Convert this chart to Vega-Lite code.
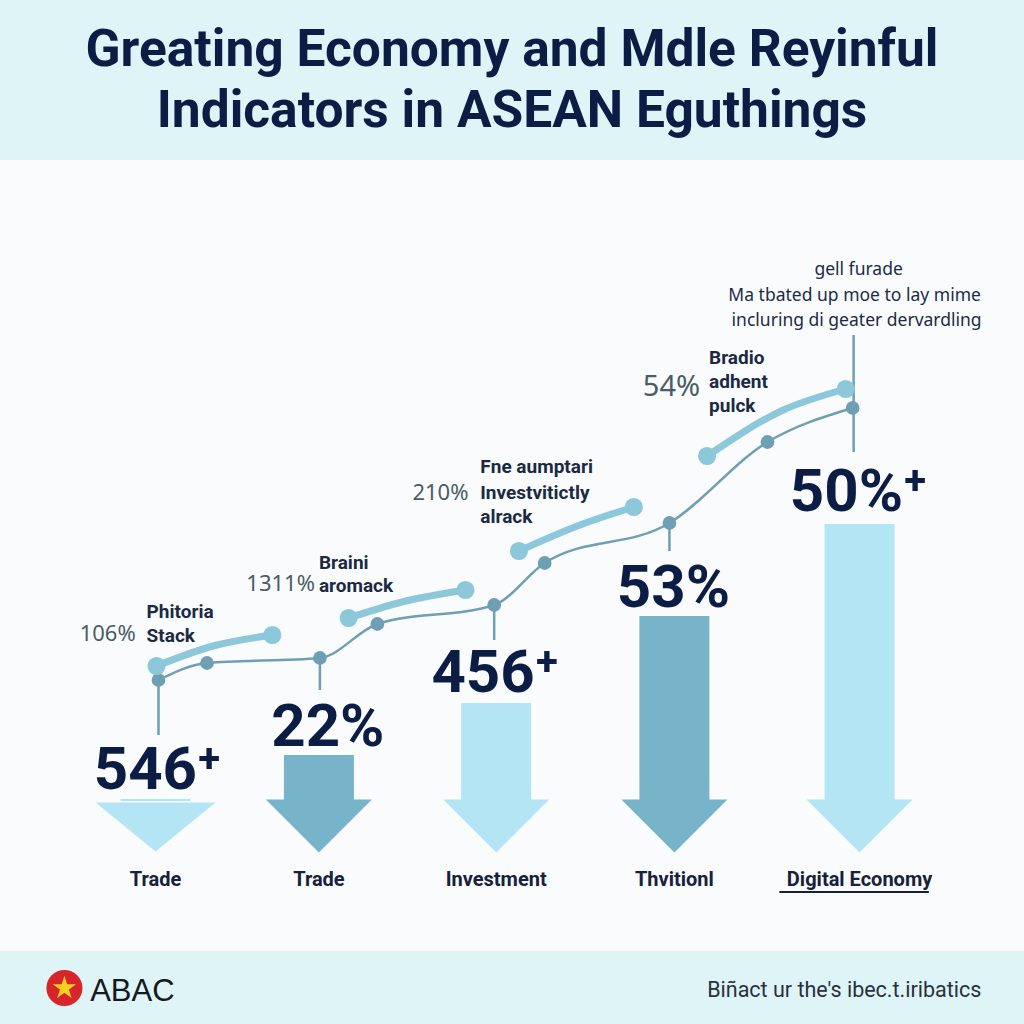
{
  "$schema": "https://vega.github.io/schema/vega-lite/v6.json",
  "width": 1024,
  "height": 1024,
  "padding": 0,
  "autosize": {"type": "none"},
  "background": "#f9fbfc",
  "config": {"view": {"stroke": null}},
  "datasets": {
    "bands": [
      {"band": "title", "x0": -20, "x1": 1044, "y0": -10, "y1": 160},
      {"band": "footer", "x0": -20, "x1": 1044, "y0": 951, "y1": 1034}
    ],
    "title": [
      {"x": 512, "y": 66, "text": "Greating Economy and Mdle Reyinful"},
      {"x": 512, "y": 127, "text": "Indicators in ASEAN Eguthings"}
    ],
    "columns": [
      {"col": 1, "label": "Trade", "figure": "546⁺", "x": 152, "figX": 154, "top": 799, "figY": 789, "tone": "light"},
      {"col": 2, "label": "Trade", "figure": "22%", "x": 317, "figX": 326, "top": 755, "figY": 746, "tone": "dark"},
      {"col": 3, "label": "Investment", "figure": "456⁺", "x": 496, "figX": 495, "top": 703, "figY": 692, "tone": "light"},
      {"col": 4, "label": "Thvitionl", "figure": "53%", "x": 676, "figX": 675, "top": 616, "figY": 607, "tone": "dark"},
      {"col": 5, "label": "Digital Economy", "figure": "50%⁺", "x": 863, "figX": 862, "top": 524, "figY": 511, "tone": "light"}
    ],
    "underline": [{"x": 782, "x2": 933, "y": 892}],
    "lineA": [
      {"x": 155, "y": 680}, {"x": 204, "y": 663}, {"x": 318, "y": 658},
      {"x": 376, "y": 624}, {"x": 494, "y": 605}, {"x": 545, "y": 563},
      {"x": 671, "y": 523}, {"x": 770, "y": 442}, {"x": 856, "y": 408}
    ],
    "lineB": [
      {"seg": 1, "x": 153, "y": 666, "end": true}, {"seg": 1, "x": 210, "y": 646, "end": false}, {"seg": 1, "x": 270, "y": 635, "end": true},
      {"seg": 2, "x": 347, "y": 618, "end": true}, {"seg": 2, "x": 405, "y": 601, "end": false}, {"seg": 2, "x": 465, "y": 590, "end": true},
      {"seg": 3, "x": 519, "y": 551, "end": true}, {"seg": 3, "x": 578, "y": 526, "end": false}, {"seg": 3, "x": 635, "y": 507, "end": true},
      {"seg": 4, "x": 709, "y": 456, "end": true}, {"seg": 4, "x": 786, "y": 410, "end": false}, {"seg": 4, "x": 849, "y": 389, "end": true}
    ],
    "drops": [
      {"x": 155, "y": 680, "y2": 735},
      {"x": 318, "y": 658, "y2": 690},
      {"x": 494, "y": 605, "y2": 640},
      {"x": 671, "y": 523, "y2": 551},
      {"x": 857, "y": 335, "y2": 452}
    ],
    "pcts": [
      {"x": 132, "y": 641, "text": "106%"},
      {"x": 313, "y": 591, "text": "1311%"},
      {"x": 468, "y": 500, "text": "210%"},
      {"x": 702, "y": 396, "text": "54%"}
    ],
    "heads": [
      {"x": 143, "y": 618, "text": "Phitoria"}, {"x": 143, "y": 642, "text": "Stack"},
      {"x": 317, "y": 569, "text": "Braini"}, {"x": 317, "y": 592, "text": "aromack"},
      {"x": 480, "y": 473, "text": "Fne aumptari"}, {"x": 480, "y": 499, "text": "Investvitictly"}, {"x": 480, "y": 523, "text": "alrack"},
      {"x": 711, "y": 364, "text": "Bradio"}, {"x": 711, "y": 388, "text": "adhent"}, {"x": 711, "y": 412, "text": "pulck"}
    ],
    "topnote": [
      {"x": 862, "y": 275, "text": "gell furade"},
      {"x": 858, "y": 301, "text": "Ma tbated up moe to lay mime"},
      {"x": 860, "y": 326, "text": "incluring di geater dervardling"}
    ],
    "logo": [{"x": 60, "y": 988, "text": "ABAC", "tx": 86, "ty": 1001}],
    "footnote": [{"x": 986, "y": 997, "text": "Biñact ur the's ibec.t.iribatics"}]
  },
  "layer": [
    {
      "data": {"name": "bands"},
      "mark": {"type": "rect", "fill": "#def4f7"},
      "encoding": {
        "x": {"field": "x0", "type": "quantitative", "scale": {"domain": [0, 1024], "nice": false, "zero": false}, "axis": null},
        "x2": {"field": "x1"},
        "y": {"field": "y0", "type": "quantitative", "scale": {"domain": [0, 1024], "nice": false, "zero": false, "reverse": true}, "axis": null},
        "y2": {"field": "y1"}
      }
    },
    {
      "data": {"name": "title"},
      "mark": {"type": "text", "align": "center", "baseline": "alphabetic", "font": "Roboto", "fontWeight": "bold", "fontSize": 51.5, "fill": "#0c1d45"},
      "encoding": {
        "x": {"field": "x", "type": "quantitative", "scale": {"domain": [0, 1024], "nice": false, "zero": false}, "axis": null},
        "y": {"field": "y", "type": "quantitative", "scale": {"domain": [0, 1024], "nice": false, "zero": false, "reverse": true}, "axis": null},
        "text": {"field": "text"}
      }
    },
    {
      "data": {"name": "drops"},
      "mark": {"type": "rule", "stroke": "#6f9fb3", "strokeWidth": 2.5},
      "encoding": {
        "x": {"field": "x", "type": "quantitative", "scale": {"domain": [0, 1024], "nice": false, "zero": false}, "axis": null},
        "y": {"field": "y", "type": "quantitative", "scale": {"domain": [0, 1024], "nice": false, "zero": false, "reverse": true}, "axis": null},
        "y2": {"field": "y2"}
      }
    },
    {
      "data": {"name": "lineA"},
      "mark": {"type": "line", "stroke": "#6f9fb3", "strokeWidth": 2.5, "interpolate": "monotone"},
      "encoding": {
        "x": {"field": "x", "type": "quantitative", "scale": {"domain": [0, 1024], "nice": false, "zero": false}, "axis": null},
        "y": {"field": "y", "type": "quantitative", "scale": {"domain": [0, 1024], "nice": false, "zero": false, "reverse": true}, "axis": null}
      }
    },
    {
      "data": {"name": "lineA"},
      "mark": {"type": "point", "shape": "circle", "filled": true, "size": 190, "fill": "#6f9fb3", "opacity": 1},
      "encoding": {
        "x": {"field": "x", "type": "quantitative", "scale": {"domain": [0, 1024], "nice": false, "zero": false}, "axis": null},
        "y": {"field": "y", "type": "quantitative", "scale": {"domain": [0, 1024], "nice": false, "zero": false, "reverse": true}, "axis": null}
      }
    },
    {
      "data": {"name": "lineB"},
      "mark": {"type": "line", "stroke": "#8dc7da", "strokeWidth": 7, "strokeCap": "round", "interpolate": "monotone"},
      "encoding": {
        "x": {"field": "x", "type": "quantitative", "scale": {"domain": [0, 1024], "nice": false, "zero": false}, "axis": null},
        "y": {"field": "y", "type": "quantitative", "scale": {"domain": [0, 1024], "nice": false, "zero": false, "reverse": true}, "axis": null},
        "detail": {"field": "seg", "type": "nominal"}
      }
    },
    {
      "data": {"name": "lineB"},
      "transform": [{"filter": "datum.end"}],
      "mark": {"type": "point", "shape": "circle", "filled": true, "size": 330, "fill": "#8dc7da", "opacity": 1},
      "encoding": {
        "x": {"field": "x", "type": "quantitative", "scale": {"domain": [0, 1024], "nice": false, "zero": false}, "axis": null},
        "y": {"field": "y", "type": "quantitative", "scale": {"domain": [0, 1024], "nice": false, "zero": false, "reverse": true}, "axis": null}
      }
    },
    {
      "data": {"name": "columns"},
      "mark": {"type": "bar", "width": 70},
      "encoding": {
        "x": {"field": "x", "type": "quantitative", "scale": {"domain": [0, 1024], "nice": false, "zero": false}, "axis": null},
        "y": {"field": "top", "type": "quantitative", "scale": {"domain": [0, 1024], "nice": false, "zero": false, "reverse": true}, "axis": null},
        "y2": {"datum": 801},
        "fill": {"field": "tone", "type": "nominal", "scale": {"domain": ["light", "dark"], "range": ["#b4e5f5", "#78b4c9"]}, "legend": null}
      }
    },
    {
      "data": {"name": "columns"},
      "transform": [{"filter": "datum.col != 1"}],
      "mark": {"type": "point", "shape": "M-1,-0.5L1,-0.5L0,0.5Z", "filled": true, "size": 11236, "opacity": 1, "strokeWidth": 0},
      "encoding": {
        "x": {"field": "x", "type": "quantitative", "scale": {"domain": [0, 1024], "nice": false, "zero": false}, "axis": null},
        "y": {"datum": 826, "type": "quantitative", "scale": {"domain": [0, 1024], "nice": false, "zero": false, "reverse": true}, "axis": null},
        "fill": {"field": "tone", "type": "nominal", "scale": {"domain": ["light", "dark"], "range": ["#b4e5f5", "#78b4c9"]}, "legend": null}
      }
    },
    {
      "data": {"name": "columns"},
      "transform": [{"filter": "datum.col == 1"}],
      "mark": {"type": "point", "shape": "M-1,-0.41L1,-0.41L0,0.41Z", "filled": true, "size": 14400, "opacity": 1, "strokeWidth": 0},
      "encoding": {
        "x": {"field": "x", "type": "quantitative", "scale": {"domain": [0, 1024], "nice": false, "zero": false}, "axis": null},
        "y": {"datum": 827, "type": "quantitative", "scale": {"domain": [0, 1024], "nice": false, "zero": false, "reverse": true}, "axis": null},
        "fill": {"field": "tone", "type": "nominal", "scale": {"domain": ["light", "dark"], "range": ["#b4e5f5", "#78b4c9"]}, "legend": null}
      }
    },
    {
      "data": {"name": "columns"},
      "mark": {"type": "text", "align": "center", "baseline": "alphabetic", "font": "Roboto", "fontWeight": "bold", "fontSize": 60, "fill": "#0c1d45"},
      "encoding": {
        "x": {"field": "figX", "type": "quantitative", "scale": {"domain": [0, 1024], "nice": false, "zero": false}, "axis": null},
        "y": {"field": "figY", "type": "quantitative", "scale": {"domain": [0, 1024], "nice": false, "zero": false, "reverse": true}, "axis": null},
        "text": {"field": "figure"}
      }
    },
    {
      "data": {"name": "columns"},
      "mark": {"type": "text", "align": "center", "baseline": "alphabetic", "font": "Roboto", "fontWeight": "bold", "fontSize": 20, "fill": "#17213b"},
      "encoding": {
        "x": {"field": "x", "type": "quantitative", "scale": {"domain": [0, 1024], "nice": false, "zero": false}, "axis": null},
        "y": {"datum": 886, "type": "quantitative", "scale": {"domain": [0, 1024], "nice": false, "zero": false, "reverse": true}, "axis": null},
        "text": {"field": "label"}
      }
    },
    {
      "data": {"name": "underline"},
      "mark": {"type": "rule", "stroke": "#17213b", "strokeWidth": 2},
      "encoding": {
        "x": {"field": "x", "type": "quantitative", "scale": {"domain": [0, 1024], "nice": false, "zero": false}, "axis": null},
        "x2": {"field": "x2"},
        "y": {"field": "y", "type": "quantitative", "scale": {"domain": [0, 1024], "nice": false, "zero": false, "reverse": true}, "axis": null}
      }
    },
    {
      "data": {"name": "pcts"},
      "transform": [{"filter": "datum.text != '54%'"}],
      "mark": {"type": "text", "align": "right", "baseline": "alphabetic", "font": "Noto Sans", "fontSize": 22, "fill": "#4b5b67"},
      "encoding": {
        "x": {"field": "x", "type": "quantitative", "scale": {"domain": [0, 1024], "nice": false, "zero": false}, "axis": null},
        "y": {"field": "y", "type": "quantitative", "scale": {"domain": [0, 1024], "nice": false, "zero": false, "reverse": true}, "axis": null},
        "text": {"field": "text"}
      }
    },
    {
      "data": {"name": "pcts"},
      "transform": [{"filter": "datum.text == '54%'"}],
      "mark": {"type": "text", "align": "right", "baseline": "alphabetic", "font": "Noto Sans", "fontSize": 29, "fill": "#4b5b67"},
      "encoding": {
        "x": {"field": "x", "type": "quantitative", "scale": {"domain": [0, 1024], "nice": false, "zero": false}, "axis": null},
        "y": {"field": "y", "type": "quantitative", "scale": {"domain": [0, 1024], "nice": false, "zero": false, "reverse": true}, "axis": null},
        "text": {"field": "text"}
      }
    },
    {
      "data": {"name": "heads"},
      "mark": {"type": "text", "align": "left", "baseline": "alphabetic", "font": "Roboto", "fontWeight": "bold", "fontSize": 19, "fill": "#1b2a42"},
      "encoding": {
        "x": {"field": "x", "type": "quantitative", "scale": {"domain": [0, 1024], "nice": false, "zero": false}, "axis": null},
        "y": {"field": "y", "type": "quantitative", "scale": {"domain": [0, 1024], "nice": false, "zero": false, "reverse": true}, "axis": null},
        "text": {"field": "text"}
      }
    },
    {
      "data": {"name": "topnote"},
      "mark": {"type": "text", "align": "center", "baseline": "alphabetic", "font": "Noto Sans", "fontSize": 17.5, "fill": "#1d2b45"},
      "encoding": {
        "x": {"field": "x", "type": "quantitative", "scale": {"domain": [0, 1024], "nice": false, "zero": false}, "axis": null},
        "y": {"field": "y", "type": "quantitative", "scale": {"domain": [0, 1024], "nice": false, "zero": false, "reverse": true}, "axis": null},
        "text": {"field": "text"}
      }
    },
    {
      "data": {"name": "logo"},
      "mark": {"type": "point", "shape": "circle", "filled": true, "size": 1300, "fill": "#d7262b", "opacity": 1},
      "encoding": {
        "x": {"field": "x", "type": "quantitative", "scale": {"domain": [0, 1024], "nice": false, "zero": false}, "axis": null},
        "y": {"field": "y", "type": "quantitative", "scale": {"domain": [0, 1024], "nice": false, "zero": false, "reverse": true}, "axis": null}
      }
    },
    {
      "data": {"name": "logo"},
      "mark": {"type": "point", "shape": "M0,-1L0.2245,-0.309L0.951,-0.309L0.363,0.118L0.588,0.809L0,0.382L-0.588,0.809L-0.363,0.118L-0.951,-0.309L-0.2245,-0.309Z", "filled": true, "size": 600, "fill": "#f6d21f", "opacity": 1, "strokeWidth": 0},
      "encoding": {
        "x": {"field": "x", "type": "quantitative", "scale": {"domain": [0, 1024], "nice": false, "zero": false}, "axis": null},
        "y": {"field": "y", "type": "quantitative", "scale": {"domain": [0, 1024], "nice": false, "zero": false, "reverse": true}, "axis": null}
      }
    },
    {
      "data": {"name": "logo"},
      "mark": {"type": "text", "align": "left", "baseline": "alphabetic", "font": "Liberation Sans", "fontSize": 31, "fill": "#151a22"},
      "encoding": {
        "x": {"field": "tx", "type": "quantitative", "scale": {"domain": [0, 1024], "nice": false, "zero": false}, "axis": null},
        "y": {"field": "ty", "type": "quantitative", "scale": {"domain": [0, 1024], "nice": false, "zero": false, "reverse": true}, "axis": null},
        "text": {"field": "text"}
      }
    },
    {
      "data": {"name": "footnote"},
      "mark": {"type": "text", "align": "right", "baseline": "alphabetic", "font": "Roboto", "fontSize": 21.5, "fill": "#28313d"},
      "encoding": {
        "x": {"field": "x", "type": "quantitative", "scale": {"domain": [0, 1024], "nice": false, "zero": false}, "axis": null},
        "y": {"field": "y", "type": "quantitative", "scale": {"domain": [0, 1024], "nice": false, "zero": false, "reverse": true}, "axis": null},
        "text": {"field": "text"}
      }
    }
  ]
}
